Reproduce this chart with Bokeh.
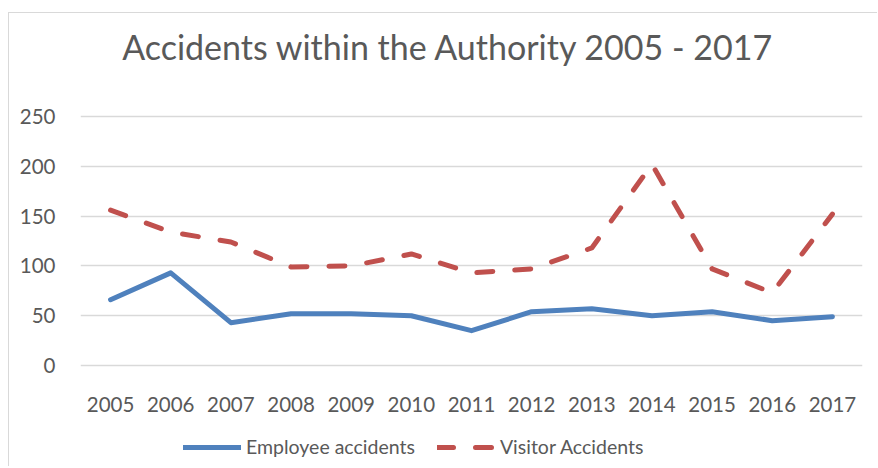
from bokeh.plotting import figure
from bokeh.models import ColumnDataSource, Legend, LegendItem, Label, FactorRange
from bokeh.embed import file_html
from bokeh.resources import INLINE

years = ["2005", "2006", "2007", "2008", "2009", "2010", "2011", "2012",
         "2013", "2014", "2015", "2016", "2017"]
employee = [66, 93, 43, 52, 52, 50, 35, 54, 57, 50, 54, 45, 49]
visitor = [156, 134, 124, 99, 100, 112, 93, 97, 118, 202, 97, 73, 152]
y_ticks = [0, 50, 100, 150, 200, 250]
title_text = "Accidents within the Authority 2005 - 2017"

FONT = "Lato"
TXT = "#595959"
GRID = "#d9d9d9"
BLUE = "#4F81BD"
RED = "#C0504D"

# frame covers the whole figure height; 0 sits at page y 365, 250 at page y 116
k = 250 / 249.0
y_top = 250 + (116 - 13) * k
y_bot = 0 - (467 - 365) * k

src = ColumnDataSource(dict(year=years, emp=employee, vis=visitor))

p = figure(width=869, height=454, x_range=FactorRange(*years), y_range=(y_bot, y_top),
           output_backend="svg", toolbar_location=None,
           min_border_left=71, min_border_right=16, min_border_top=0, min_border_bottom=0)
p.styles = {"border-left": "1px solid #d9d9d9", "border-top": "1px solid #d9d9d9",
            "margin-top": "12px", "margin-left": "8px"}
p.outline_line_color = None
p.background_fill_color = "white"

p.xgrid.grid_line_color = None
p.ygrid.grid_line_color = GRID
p.ygrid.grid_line_width = 1.3
p.yaxis.ticker = y_ticks
p.xaxis.fixed_location = 0

for ax in (p.xaxis[0], p.yaxis[0]):
    ax.axis_line_color = None
    ax.major_tick_line_color = None
    ax.minor_tick_line_color = None
    ax.major_label_text_font = FONT
    ax.major_label_text_font_size = "20.5px"
    ax.major_label_text_color = TXT
p.yaxis.major_label_standoff = 19
p.xaxis.major_label_standoff = 25

r1 = p.line("year", "emp", source=src, line_color=BLUE, line_width=5, line_cap="round",
            line_join="round")
r2 = p.line("year", "vis", source=src, line_color=RED, line_width=5, line_cap="round",
            line_join="round", line_dash="16 22")

legend = Legend(items=[LegendItem(label="Employee accidents", renderers=[r1]),
                       LegendItem(label="Visitor Accidents", renderers=[r2])],
                location=(103, 9), orientation="horizontal",
                border_line_color=None, background_fill_alpha=0,
                padding=0, margin=0, spacing=22, label_standoff=5,
                glyph_width=58, glyph_height=20,
                label_text_font=FONT, label_text_font_size="19.5px",
                label_text_color=TXT)
p.add_layout(legend, "center")

title = Label(x=(448 - 80) / (782 / 13), y=250 + (116 - 46) * k,
              text=title_text, text_font=FONT, text_font_size="34px", text_color=TXT,
              text_align="center", text_baseline="alphabetic")
p.add_layout(title)

open("out.html", "w").write(file_html(p, INLINE))
